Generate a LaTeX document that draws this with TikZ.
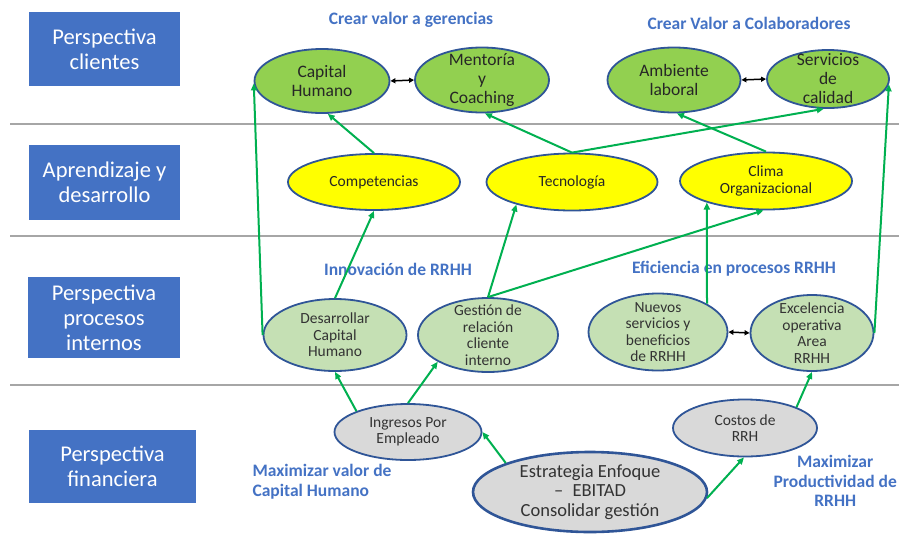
\documentclass[tikz,border=0pt]{standalone}
\usepackage{fontspec}
\setmainfont{Carlito}
\usetikzlibrary{arrows.meta,shapes.geometric}

\definecolor{azul}{HTML}{4472C4}
\definecolor{borde}{HTML}{2F5597}
\definecolor{verde}{HTML}{92D050}
\definecolor{verdeclaro}{HTML}{C5E0B4}
\definecolor{amarillo}{HTML}{FFFF00}
\definecolor{gris}{HTML}{D9D9D9}
\definecolor{verdeflecha}{HTML}{00B050}
\definecolor{linea}{HTML}{A6A6A6}

\begin{document}
\begin{tikzpicture}[x=1pt,y=-1pt,
    caja/.style={fill=azul,text=white,align=center,inner sep=0pt,font=\fontsize{22.5}{25}\selectfont},
    elip/.style={ellipse,draw=borde,line width=1.8pt,inner sep=0pt},
    t1/.style={align=center,text=black!85,font=\fontsize{17.5}{19}\selectfont},
    t2/.style={align=center,text=black!85,font=\fontsize{15.5}{17}\selectfont},
    t3/.style={align=center,text=black!80,font=\fontsize{15.5}{16.5}\selectfont},
    t4/.style={align=center,text=black!80,font=\fontsize{18.5}{19.5}\selectfont},
    rotulo/.style={text=azul,align=center,font=\bfseries\fontsize{17.5}{19.5}\selectfont},
    flecha/.style={draw=verdeflecha,line width=2pt,-{Triangle[length=7pt,width=6pt]}},
    doble/.style={black,line width=1.5pt,{Triangle[length=5pt,width=5pt]}-{Triangle[length=5pt,width=5pt]}}
]
    \useasboundingbox (0,0) rectangle (899,533);

    % Separators between the four perspectives
    \foreach \y in {124,236,385} {
        \draw[linea,line width=1.5pt] (10,\y) -- (899,\y);
    }

    % Perspective boxes
    \node[caja,minimum width=151pt,minimum height=74pt] (pcli) at (104.5,49) {Perspectiva\\clientes};
    \node[caja,minimum width=151pt,minimum height=75pt] (papr) at (104.5,182.5) {Aprendizaje y\\desarrollo};
    \node[caja,minimum width=152pt,minimum height=81pt] (ppro) at (104,317.5) {Perspectiva\\procesos\\internos};
    \node[caja,minimum width=167pt,minimum height=73pt] (pfin) at (112.5,466.5) {Perspectiva\\financiera};

    % Clientes
    \node[elip,fill=verde,minimum width=135pt,minimum height=64pt,label={[t1]center:{Capital\\Humano}}] (cap) at (322,81) {};
    \node[elip,fill=verde,minimum width=134pt,minimum height=65pt,label={[t1]center:{Mentoría\\y\\Coaching}}] (men) at (482,80) {};
    \node[elip,fill=verde,minimum width=133pt,minimum height=65pt,label={[t1]center:{Ambiente\\laboral}}] (amb) at (674,80) {};
    \node[elip,fill=verde,minimum width=122pt,minimum height=58pt,label={[t1]center:{Servicios\\de\\calidad}}] (ser) at (828,79) {};

    % Aprendizaje
    \node[elip,fill=amarillo,minimum width=172pt,minimum height=56pt,label={[t2]center:{Competencias}}] (com) at (374,182) {};
    \node[elip,fill=amarillo,minimum width=171pt,minimum height=57pt,label={[t2]center:{Tecnología}}] (tec) at (572,182) {};
    \node[elip,fill=amarillo,minimum width=172pt,minimum height=57pt,label={[t2]center:{Clima\\Organizacional}}] (cli) at (766,181) {};

    % Procesos internos
    \node[elip,fill=verdeclaro,minimum width=143pt,minimum height=72pt,label={[t3]center:{Desarrollar\\Capital\\Humano}}] (des) at (335,335) {};
    \node[elip,fill=verdeclaro,minimum width=140pt,minimum height=74pt,label={[t3]center:{Gestión de\\relación\\cliente\\interno}}] (ges) at (488,335) {};
    \node[elip,fill=verdeclaro,minimum width=139pt,minimum height=77pt,label={[t3]center:{Nuevos\\servicios y\\beneficios\\de RRHH}}] (nue) at (658,332) {};
    \node[elip,fill=verdeclaro,minimum width=123pt,minimum height=76pt,label={[t3]center:{Excelencia\\operativa\\Area\\RRHH}}] (exc) at (812,333) {};

    % Financiera
    \node[elip,fill=gris,minimum width=147pt,minimum height=56pt,label={[t3]center:{Ingresos Por\\Empleado}}] (ing) at (408,432) {};
    \node[elip,fill=gris,minimum width=144pt,minimum height=57pt,label={[t3]center:{Costos de\\RRH}}] (cst) at (745,428) {};
    \node[elip,fill=gris,line width=2.6pt,minimum width=234pt,minimum height=80pt,label={[t4]center:{Estrategia Enfoque\\--\enspace EBITAD\\Consolidar gestión}}] (est) at (590,492) {};

    % Objectives
    \node[rotulo] (rger) at (411,20) {Crear valor a gerencias};
    \node[rotulo] (rcol) at (749,23) {Crear Valor a Colaboradores};
    \node[rotulo] (rinn) at (398,269) {Innovación de RRHH};
    \node[rotulo] (refi) at (734,269) {Eficiencia en procesos RRHH};
    \node[rotulo,align=left,anchor=west] (rmax) at (249,481.5) {Maximizar valor de\\Capital Humano};
    \node[rotulo,anchor=east,inner sep=1pt] (rpro) at (898,481) {Maximizar\\Productividad de\\RRHH};

    % Cause-effect links
    \draw[flecha] (des.180) -- (cap.182);
    \draw[flecha] (com.north) -- (cap.280);
    \draw[flecha] (des.north) -- (com.south);
    \draw[flecha] (tec.north) -- (men.275);
    \draw[flecha] (tec.north) -- (ser.262);
    \draw[flecha] (cli.north) -- (amb.275);
    \draw[flecha] (ges.north) -- (tec.202);
    \draw[flecha] (ges.north) -- (cli.265);
    \draw[flecha] (nue.30) -- (cli.200);
    \draw[flecha] (exc.east) -- (ser.355);
    \draw[flecha] (ing.158) -- (des.south);
    \draw[flecha] (ing.north) -- (ges.208);
    \draw[flecha] (est.161) -- (ing.east);
    \draw[flecha] (est.357) -- (cst.268);
    \draw[flecha] (cst.22) -- (exc.south);

    % Two-way links
    \draw[doble] (cap.east) -- (men.west);
    \draw[doble] (amb.east) -- (ser.west);
    \draw[doble] (nue.east) -- (exc.west);
\end{tikzpicture}
\end{document}
